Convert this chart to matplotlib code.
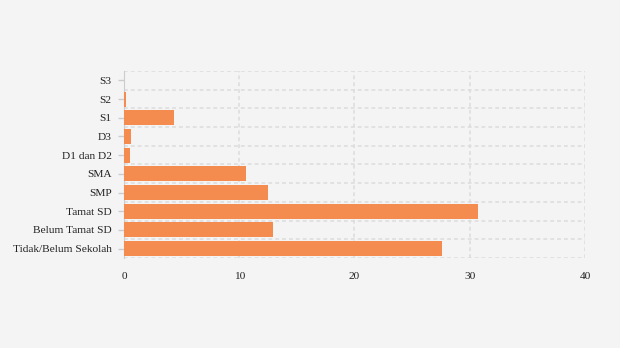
import matplotlib.pyplot as plt

# education level (top to bottom) and share values
categories = ['S3', 'S2', 'S1', 'D3', 'D1 dan D2', 'SMA', 'SMP',
              'Tamat SD', 'Belum Tamat SD', 'Tidak/Belum Sekolah']
values = [0.0, 0.15, 4.35, 0.6, 0.5, 10.6, 12.5, 30.7, 12.9, 27.6]
xticks = [0, 10, 20, 30, 40]

plt.rcParams['font.family'] = ['Liberation Serif', 'DejaVu Serif']

fig = plt.figure(figsize=(6.2, 3.48), dpi=100, facecolor='#f4f4f4')
ax = fig.add_axes([0.2, 0.2586, 0.7435, 0.5374])
ax.set_facecolor('#f4f4f4')

pos = list(range(len(categories)))
ax.barh(pos, values, height=0.8, color='#f48c50', zorder=3)

ax.set_xlim(0, 40)
ax.set_ylim(len(categories) - 0.5, -0.5)
ax.set_xticks(xticks)
ax.set_xticklabels([str(t) for t in xticks])
ax.set_yticks(pos)
ax.set_yticklabels(categories)
ax.set_yticks([p + 0.5 for p in range(-1, len(categories))], minor=True)

grid_kw = dict(color='#dcdcdc', linestyle=(0, (2.5, 2)), linewidth=1.1)
ax.grid(True, axis='x', which='major', zorder=0, **grid_kw)
ax.grid(True, axis='y', which='minor', zorder=0, **grid_kw)

for side in ['top', 'right', 'bottom']:
    ax.spines[side].set_visible(False)
ax.spines['left'].set_color('#cccccc')
ax.spines['left'].set_linestyle((0, (3, 1)))

ax.tick_params(axis='x', length=0, pad=10, labelsize=8.2, colors='#222222')
ax.tick_params(axis='y', which='major', length=4, width=1, color='#cccccc',
               pad=5, labelsize=8.2, labelcolor='#222222')
ax.tick_params(axis='y', which='minor', length=0)

fig.savefig('out.png', dpi=100, facecolor=fig.get_facecolor())
